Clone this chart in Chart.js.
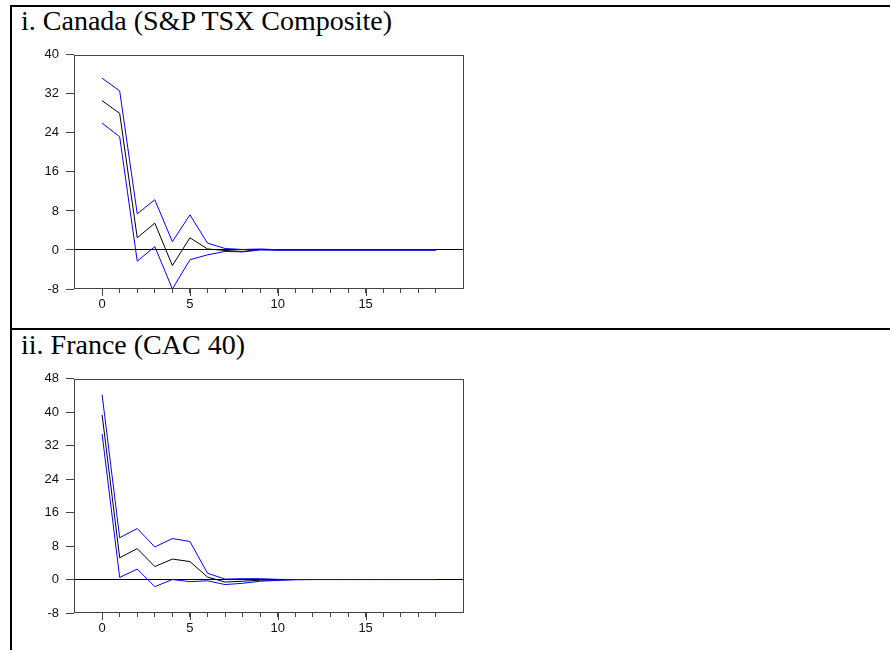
<!DOCTYPE html>
<html><head><meta charset="utf-8">
<script src="https://cdn.jsdelivr.net/npm/chart.js@4.4.1/dist/chart.umd.min.js"></script>
<style>
html,body{margin:0;padding:0;background:#fff;width:892px;height:650px;overflow:hidden;}
.line{position:absolute;background:#000;}
.title{position:absolute;left:21px;font-family:"Liberation Serif","Times New Roman",serif;font-size:28px;line-height:28px;color:#000;white-space:nowrap;}
.box{position:absolute;left:0;width:480px;height:280px;}
</style></head><body>
<div class="line" style="left:10px;top:5px;width:880px;height:2px"></div>
<div class="line" style="left:10px;top:5px;width:2px;height:645px"></div>
<div class="line" style="left:10px;top:328px;width:880px;height:2px"></div>
<div class="title" style="top:7px">i. Canada (S&amp;P TSX Composite)</div>
<div class="title" style="top:331px">ii. France (CAC 40)</div>
<div class="box" style="top:40px"><canvas id="c1"></canvas></div>
<div class="box" style="top:364px"><canvas id="c2"></canvas></div>
<script>
// Horizons (periods after the shock)
const horizons = [0,1,2,3,4,5,6,7,8,9,10,11,12,13,14,15,16,17,18,19];

// i. Canada (S&P TSX Composite)
const canadaResponse = [30.6, 28.0, 2.5, 5.5, -3.2, 2.5, 0.2, -0.1, -0.3, 0.1, 0.0, 0, 0, 0, 0, 0, 0, 0, 0, 0];
const canadaUpper    = [35.2, 32.6, 7.4, 10.3, 1.7, 7.2, 1.4, 0.3, 0.1, 0.2, 0.05, 0.02, 0, 0, 0, 0, 0, 0, 0, 0];
const canadaLower    = [26.0, 23.2, -2.3, 0.7, -8.0, -2.0, -1.0, -0.3, -0.4, 0.0, -0.05, -0.02, 0, 0, 0, 0, 0, 0, 0, 0];
const canadaTicks = {min: -8, max: 40, step: 8};

// ii. France (CAC 40)
const franceResponse = [39.4, 5.2, 7.4, 3.1, 4.9, 4.3, 0.6, -0.6, -0.4, -0.15, -0.1, 0, 0, 0, 0, 0, 0, 0, 0, 0];
const franceUpper    = [44.2, 10.0, 12.2, 7.8, 9.8, 9.1, 1.5, 0.1, 0.2, 0.2, 0.05, 0, 0, 0, 0, 0, 0, 0, 0, 0];
const franceLower    = [34.8, 0.5, 2.5, -1.7, 0.0, -0.5, -0.3, -1.2, -0.9, -0.4, -0.2, -0.05, 0, 0, 0, 0, 0, 0, 0, 0];
const franceTicks = {min: -8, max: 48, step: 8};

const BLUE = '#0000ff';
const FRAME = '#444';
const TICKFONT = {family: '"Liberation Sans", Arial, sans-serif', size: 13};

const boxPlugin = {
  id: 'box',
  afterDraw(chart) {
    const a = chart.chartArea, c = chart.ctx;
    c.save();
    c.strokeStyle = FRAME;
    c.lineWidth = 1;
    const l = Math.round(a.left) + 0.5, t = Math.round(a.top) + 0.5;
    const r = Math.round(a.right) - 0.5, b = Math.round(a.bottom) - 0.5;
    c.strokeRect(l, t, r - l, b - t);
    // longer major ticks on x axis
    const xs = chart.scales.x;
    horizons.forEach(v => {
      if (v % 5 === 0) {
        const px = Math.round(xs.getPixelForValue(v)) + 0.5;
        c.beginPath();
        c.moveTo(px, b);
        c.lineTo(px, b + 7.5);
        c.stroke();
      }
    });
    c.restore();
  }
};

function pts(arr) { return horizons.map((h, i) => ({x: h, y: arr[i]})); }

function makeChart(id, resp, upper, lower, yt) {
  new Chart(document.getElementById(id), {
    type: 'line',
    data: {
      datasets: [
        {data: pts(upper), borderColor: BLUE, borderWidth: 1, pointRadius: 0, tension: 0},
        {data: pts(lower), borderColor: BLUE, borderWidth: 1, pointRadius: 0, tension: 0},
        {data: pts(resp), borderColor: '#000', borderWidth: 1, pointRadius: 0, tension: 0}
      ]
    },
    options: {
      responsive: true,
      maintainAspectRatio: false,
      animation: false,
      layout: {padding: {top: 12, right: 16, left: 0, bottom: 0}},
      plugins: {legend: {display: false}, tooltip: {enabled: false}, title: {display: false}},
      scales: {
        x: {
          type: 'linear',
          min: -1.6, max: 20.6,
          afterBuildTicks: s => { s.ticks = horizons.map(v => ({value: v})); },
          afterFit: s => { s.height = 31; },
          border: {display: false},
          grid: {drawOnChartArea: false, drawTicks: true, tickLength: 4, tickColor: FRAME, lineWidth: 1},
          ticks: {
            autoSkip: false, maxRotation: 0, padding: 4,
            color: '#111',
            font: TICKFONT,
            callback: v => (v % 5 === 0 ? String(v) : '')
          }
        },
        y: {
          min: yt.min, max: yt.max,
          afterFit: s => { s.width = 74; },
          border: {display: false},
          grid: {
            drawOnChartArea: true, drawTicks: true, tickLength: 8,
            color: ctx => (ctx.tick && ctx.tick.value === 0 ? '#000' : 'rgba(0,0,0,0)'),
            tickColor: FRAME, lineWidth: 1
          },
          ticks: {
            stepSize: yt.step, padding: 7,
            color: '#111',
            font: TICKFONT
          }
        }
      }
    },
    plugins: [boxPlugin]
  });
}

makeChart('c1', canadaResponse, canadaUpper, canadaLower, canadaTicks);
makeChart('c2', franceResponse, franceUpper, franceLower, franceTicks);
</script>
</body></html>
